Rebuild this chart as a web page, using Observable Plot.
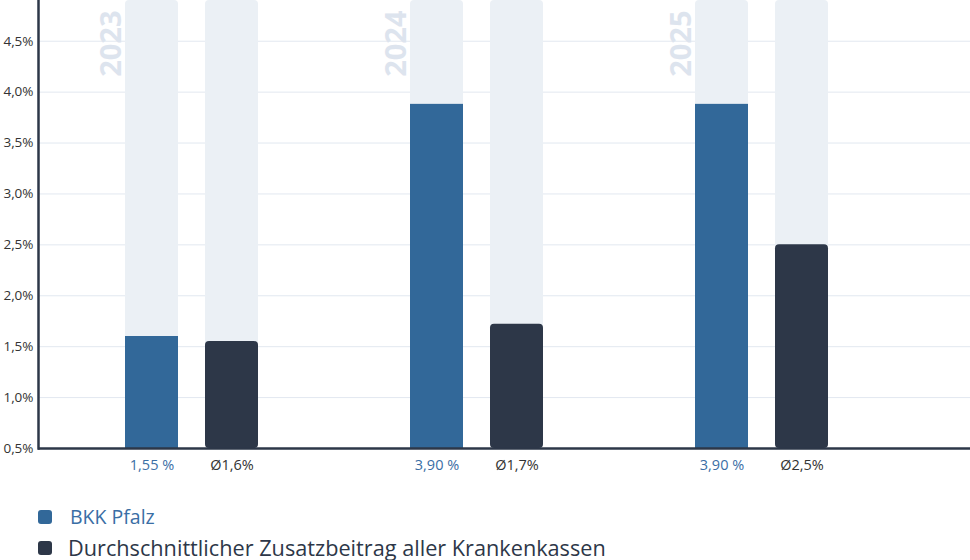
<!DOCTYPE html>
<html>
<head>
<meta charset="utf-8">
<script src="https://cdn.jsdelivr.net/npm/d3@7"></script>
<script src="https://cdn.jsdelivr.net/npm/@observablehq/plot@0.6"></script>
<style>
  html, body { margin: 0; padding: 0; background: #fff; }
  body { width: 970px; height: 560px; overflow: hidden; font-family: "Open Sans", sans-serif; }
  #chart svg { display: block; }
  .legend { padding-left: 38px; margin-top: 21px; }
  .item { display: flex; align-items: center; height: 31px; }
  .sw { width: 14px; height: 14px; border-radius: 3px; flex: none; }
  .l1 { color: #3a6ea5; font-size: 19.5px; line-height: 28px; margin-left: 18px; }
  .l2 { color: #2d3748; font-size: 21.7px; line-height: 30px; margin-left: 16px; font-weight: 500; }
</style>
</head>
<body>
<div id="chart"></div>
<div class="legend">
  <div class="item"><div class="sw" style="background:#326899"></div><span class="l1" id="leg1"></span></div>
  <div class="item"><div class="sw" style="background:#2d3748"></div><span class="l2" id="leg2"></span></div>
</div>
<script>
// ---- data ----
const years = ["2023", "2024", "2025"];
const seriesNames = ["BKK Pfalz", "Durchschnittlicher Zusatzbeitrag aller Krankenkassen"];
const bkkValues = [1.6, 3.88, 3.88];
const avgValues = [1.55, 1.72, 2.5];
const bkkLabels = ["1,55 %", "3,90 %", "3,90 %"];
const avgLabels = ["Ø1,6%", "Ø1,7%", "Ø2,5%"];
const yTicks = [0.5, 1.0, 1.5, 2.0, 2.5, 3.0, 3.5, 4.0, 4.5];
const yMin = 0.5, yMax = 4.9;

document.getElementById("leg1").textContent = seriesNames[0];
document.getElementById("leg2").textContent = seriesNames[1];

const bkk = years.map((year, i) => ({year, value: bkkValues[i], label: bkkLabels[i]}));
const avg = years.map((year, i) => ({year, value: avgValues[i], label: avgLabels[i]}));

const BLUE = "#326899", DARK = "#2d3748", BG = "#ebf0f5", GRID = "#e2e8f0";
// band width 285: BKK bar occupies 76..129, average bar 156..209
const bkkInset = {insetLeft: 76, insetRight: 156};
const avgInset = {insetLeft: 156, insetRight: 76};

const chart = Plot.plot({
  width: 970,
  height: 480,
  marginLeft: 38,
  marginRight: 0,
  marginTop: 0,
  marginBottom: 32,
  style: {fontFamily: "'Open Sans', sans-serif", fontSize: "13.5px", background: "#fff"},
  x: {domain: years, range: [49, 904], padding: 0, axis: null},
  y: {domain: [yMin, yMax], axis: null},
  marks: [
    Plot.gridY(yTicks.filter(t => t > yMin), {stroke: GRID, strokeOpacity: 1, strokeWidth: 1}),
    Plot.axisY(yTicks, {
      label: null, tickSize: 0, tickPadding: 5, fontSize: 13.5, fill: "#333",
      tickFormat: d => d.toFixed(1).replace(".", ",") + "%"
    }),
    // background columns
    Plot.barY(years, {x: d => d, y1: yMin, y2: yMax, fill: BG, rx: 4, ...bkkInset}),
    Plot.barY(years, {x: d => d, y1: yMin, y2: yMax, fill: BG, rx: 4, ...avgInset}),
    // value bars
    Plot.barY(bkk, {x: "year", y1: yMin, y2: "value", fill: BLUE, ...bkkInset}),
    Plot.barY(avg, {x: "year", y1: yMin, y2: "value", fill: DARK, rx: 4, ...avgInset}),
    // year labels
    Plot.text(years, {
      x: d => d, frameAnchor: "top", dy: 10, dx: -92, rotate: -90, textAnchor: "end",
      text: d => d, fontSize: 29, fontWeight: "bold", fill: "#dde4ee"
    }),
    // value labels
    Plot.text(bkk, {x: "year", frameAnchor: "bottom", dy: 21, dx: -40, text: "label", fontSize: 14.5, fill: "#3a6ea5"}),
    Plot.text(avg, {x: "year", frameAnchor: "bottom", dy: 21, dx: 40, text: "label", fontSize: 14.5, fill: "#333"}),
    // axis lines
    Plot.ruleY([yMin], {stroke: DARK, strokeWidth: 2.5}),
    Plot.frame({anchor: "left", stroke: DARK, strokeWidth: 2.5})
  ]
});
document.getElementById("chart").appendChild(chart);
</script>
</body>
</html>
